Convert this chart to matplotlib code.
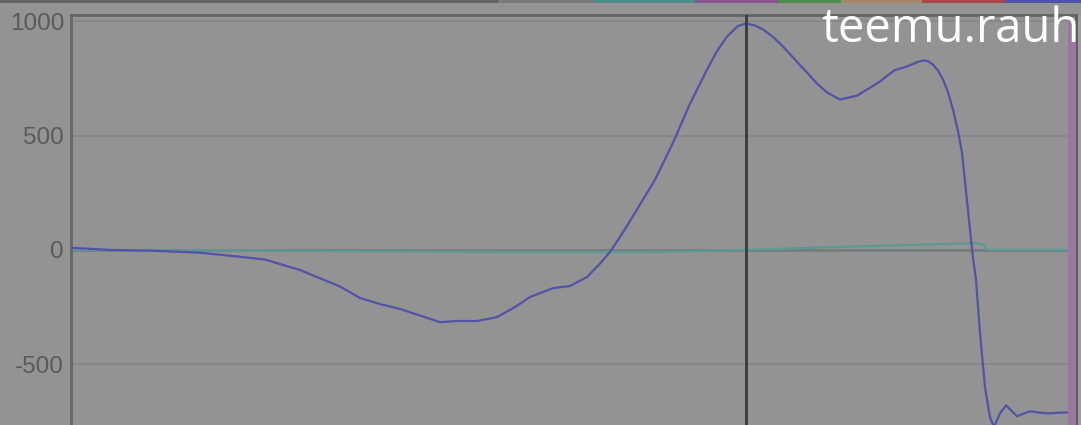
import matplotlib
matplotlib.use("Agg")
import matplotlib.pyplot as plt
import numpy as np

# main (blue) trace, x in plot units, y in value units
blue_x = [1, 19, 39, 79, 129, 169, 194, 229, 269, 289, 309, 329, 342, 369, 386, 406,
          426, 444, 459, 482, 499, 516, 529, 539, 551, 562, 574, 584, 602, 619, 636, 646, 656,
          667, 675, 684, 692, 702, 712, 724, 736, 746, 756, 769, 786, 809, 823, 836, 847, 852,
          857, 862, 867, 872, 877, 882, 887,
          891, 896, 899, 902, 905, 909, 914, 919, 923, 929, 935, 941, 946, 953, 959,
          969, 976, 997]
blue_y = [9, 5, 0, -3, -12, -30, -42, -88, -160, -210, -237, -258, -277, -316, -311, -311,
          -294, -250, -206, -167, -158, -118, -60, -9, 70, 148, 235, 307, 469, 640, 789, 870, 934,
          980, 991, 982, 965, 932, 890, 833, 776, 728, 689, 658, 675, 737, 785, 803, 823, 829,
          826, 811, 785, 746, 690, 614, 520,
          425, 215, 90, -35, -130, -364, -601, -732, -775, -715, -680, -705, -728, -715, -706,
          -712, -715, -711]

# second (teal) trace, sits near zero
teal_x = [1, 129, 329, 429, 579, 675, 729, 809, 889, 907, 913, 916, 919, 997]
teal_y = [0, -2, -6, -9, -9, 0, 8, 18, 28, 30, 22, 2, 0, 0]

y_ticks = [1000, 500, 0, -500]
cursor_x = 675

# strip of series colours along the very top
strip_edges = [0, 498, 593, 695, 778, 841, 922, 1005, 1081]
strip_colors = ["#626262", "#7a7a7a", "#4f8d8a", "#8a558f", "#4f8a50", "#a88468", "#a84848", "#5050a8"]

W, H = 1081, 425
fig = plt.figure(figsize=(W / 100, H / 100), dpi=100, facecolor="#939393")

ax = fig.add_axes([71 / W, 0, (1076 - 71) / W, (H - 15) / H])
ax.set_facecolor("#939393")
ax.set_xlim(0, 1005)
ax.set_ylim(-766, 1028)

for t in y_ticks:
    if t == 0:
        ax.axhline(t, color="#737d7c", lw=2, zorder=1)
    else:
        ax.axhline(t, color="#878787", lw=1.5, zorder=1)

ax.plot(teal_x, teal_y, color="#5a9994", lw=1.6, zorder=2, solid_joinstyle="round")
ax.plot(blue_x, blue_y, color="#5252a8", lw=1.6, zorder=3, solid_joinstyle="round")
ax.axvline(cursor_x, color="#3a3a3a", lw=2, zorder=4)

# purple marker bar at right edge
ax.axvspan(997, 1005, ymin=0, ymax=(1000 + 766) / (1028 + 766), color="#9a76a0", lw=0, zorder=5)

ax.set_yticks(y_ticks)
ax.set_yticklabels([str(t) for t in y_ticks], fontfamily="Liberation Sans", fontsize=17.5, color="#5a5a5a")
ax.tick_params(axis="y", length=0, pad=5)
ax.set_xticks([])

ax.spines["bottom"].set_visible(False)
ax.spines["left"].set_color("#666666")
ax.spines["left"].set_linewidth(2)
ax.spines["top"].set_color("#646464")
ax.spines["top"].set_linewidth(2)
ax.spines["right"].set_color("#5a5a5a")
ax.spines["right"].set_linewidth(2)

# lighter sliver right of the plot
fig.patches.append(plt.Rectangle((1078 / W, 0), 3 / W, (H - 15) / H, transform=fig.transFigure,
                                 color="#9c9c9c", lw=0))

for i, c in enumerate(strip_colors):
    x0, x1 = strip_edges[i], strip_edges[i + 1]
    fig.patches.append(plt.Rectangle((x0 / W, 1 - 2.5 / H), (x1 - x0) / W, 2.5 / H,
                                     transform=fig.transFigure, color=c, lw=0))

fig.text(1080 / W, 1 - 42 / H, "teemu.rauh", color="white", fontfamily="Open Sans",
         fontsize=34, ha="right", va="baseline")

fig.savefig("out.png", dpi=100, facecolor=fig.get_facecolor())
